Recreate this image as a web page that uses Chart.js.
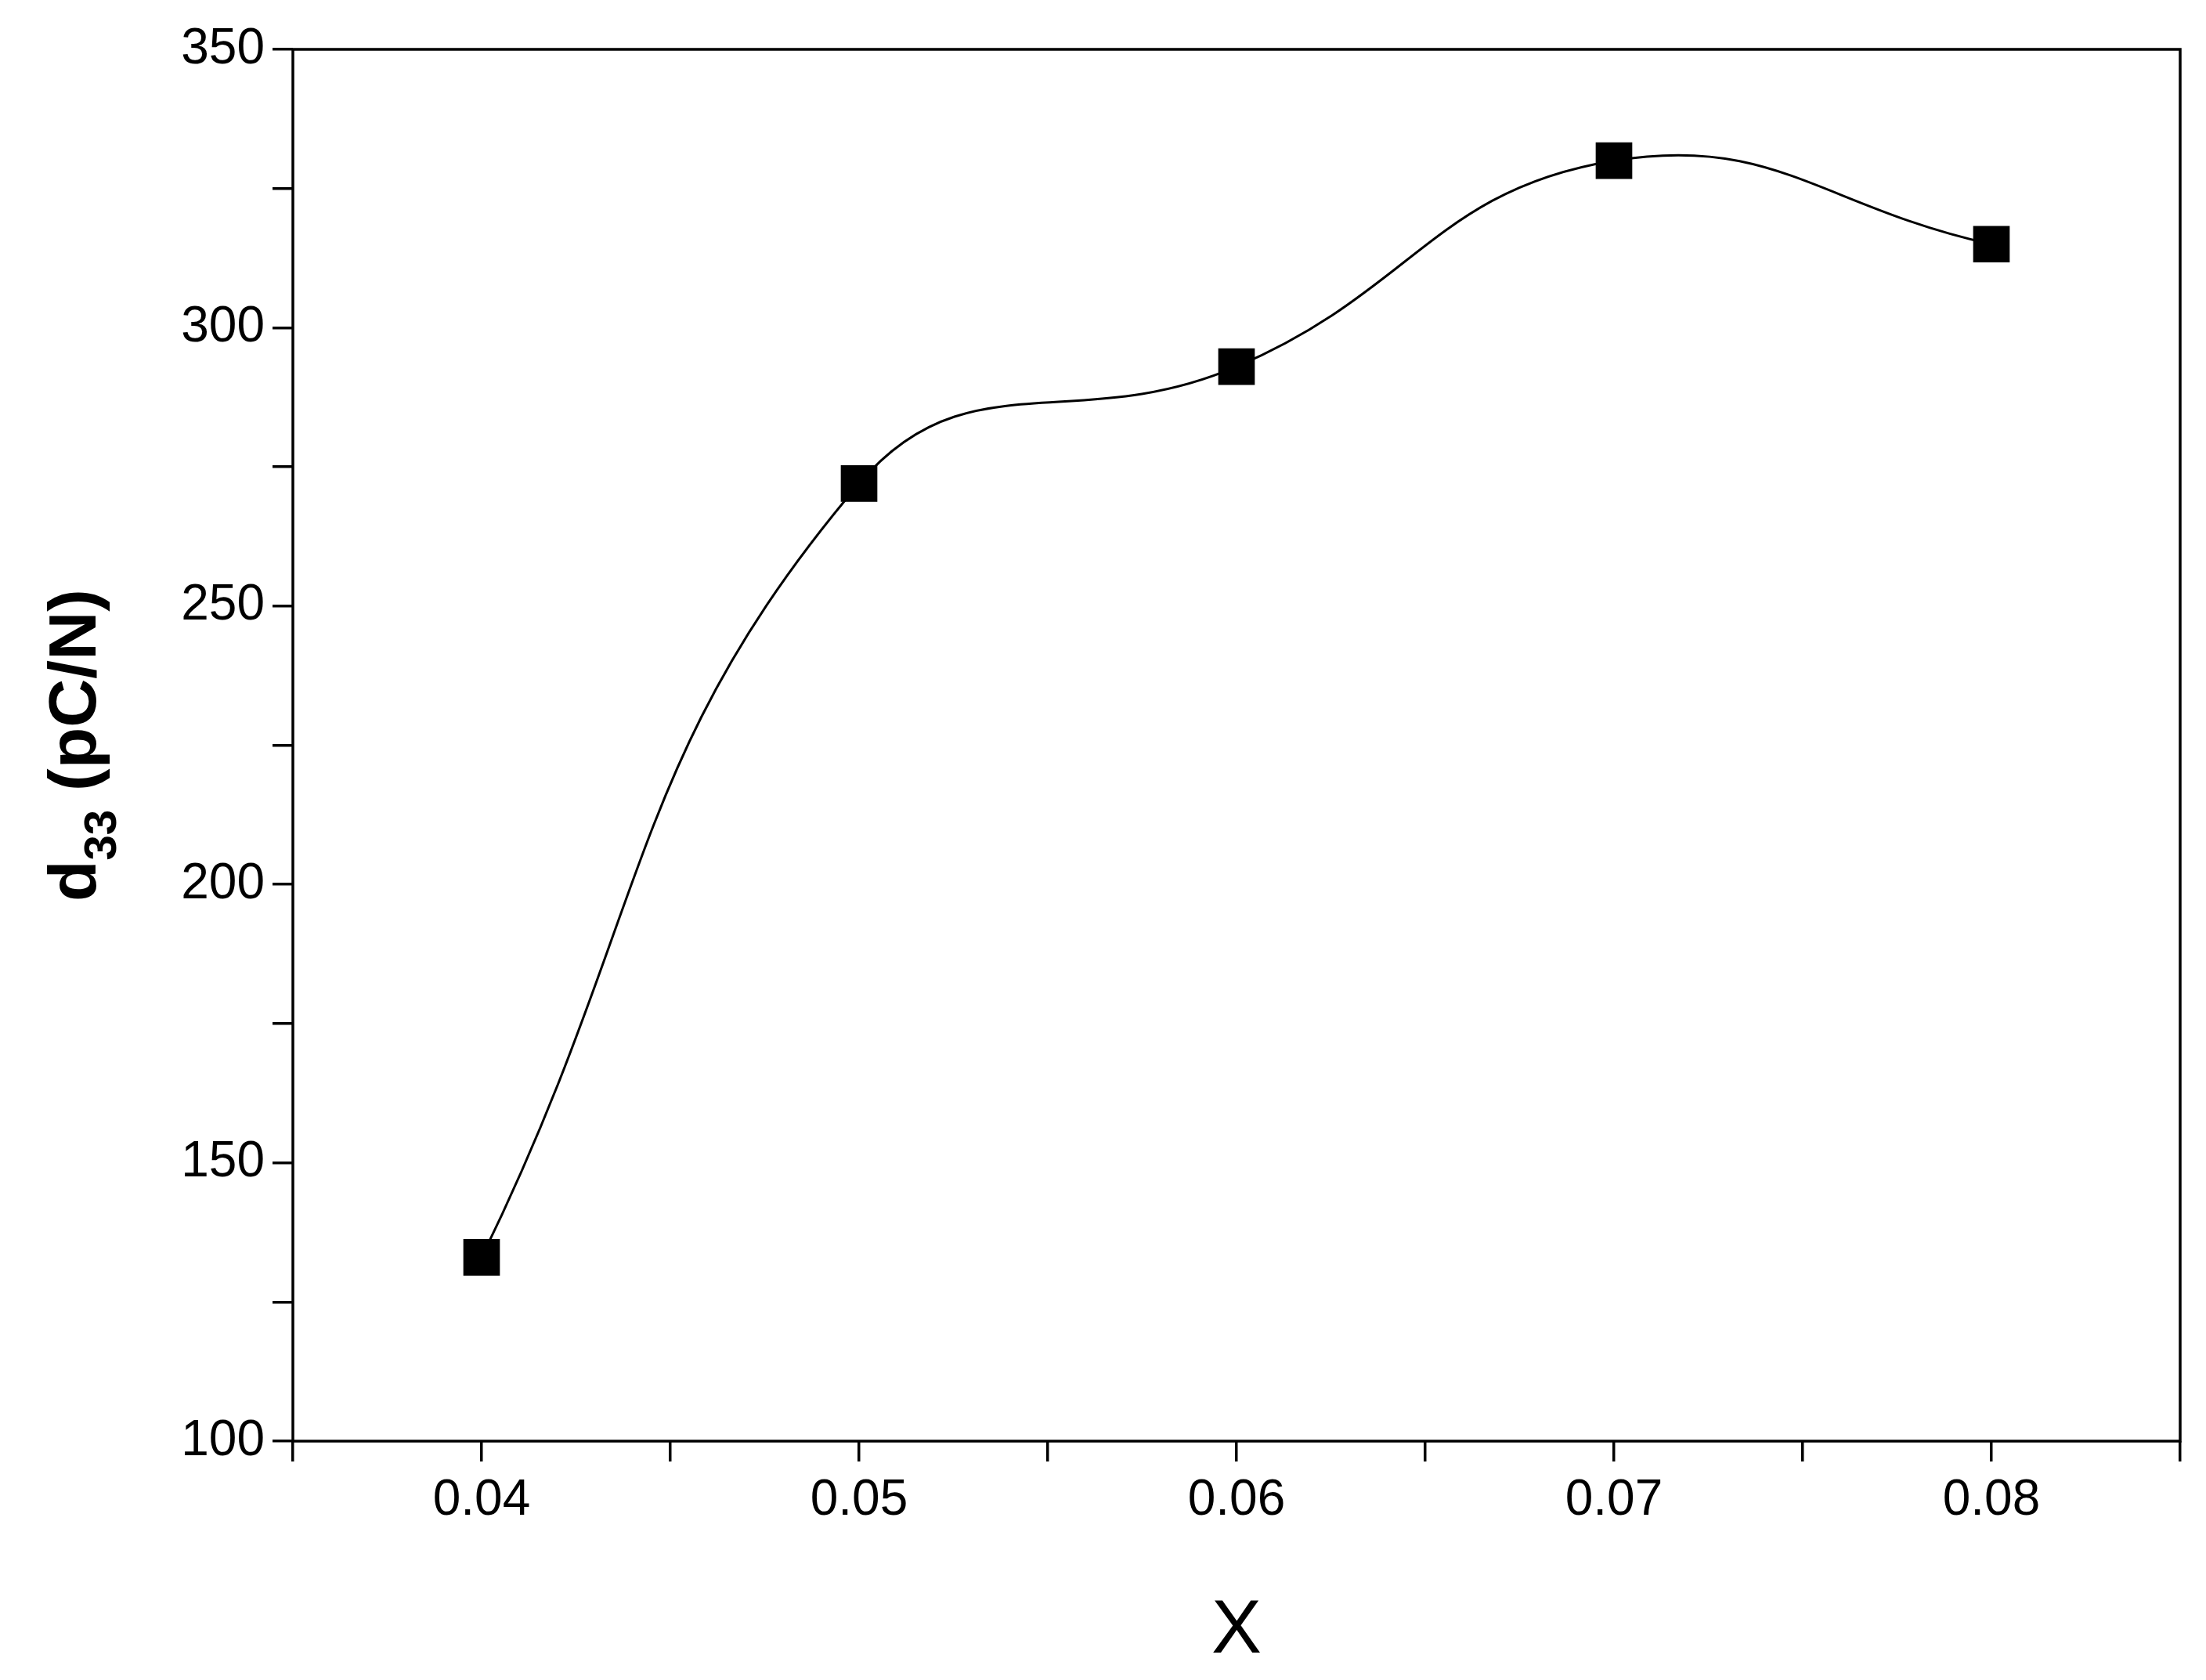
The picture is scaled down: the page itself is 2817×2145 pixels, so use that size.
<!DOCTYPE html>
<html><head><meta charset="utf-8">
<script src="https://cdn.jsdelivr.net/npm/chart.js@4/dist/chart.umd.min.js"></script>
<style>html,body{margin:0;padding:0;background:#fff}#w{width:2817px;height:2145px}</style>
</head><body><div id="w"><canvas id="c"></canvas></div>
<script>
const xValues = [0.04, 0.05, 0.06, 0.07, 0.08];
const d33Values = [133, 272, 293, 330, 315];
const xTicks = [0.035,0.04,0.045,0.05,0.055,0.06,0.065,0.07,0.075,0.08,0.085];
const xTickLabels = ['', '0.04', '', '0.05', '', '0.06', '', '0.07', '', '0.08', ''];
const yTicks = [100,125,150,175,200,225,250,275,300,325,350];
const yTickLabels = ['100','','150','','200','','250','','300','','350'];

const frame = {
  id:'frame',
  afterDraw(ch){
    const {ctx, chartArea:a} = ch;
    ctx.save();
    ctx.strokeStyle='#000'; ctx.lineWidth=3.5;
    ctx.strokeRect(a.left,a.top,a.right-a.left,a.bottom-a.top);
    ctx.translate(92,(a.top+a.bottom)/2);
    ctx.rotate(-Math.PI/2);
    ctx.fillStyle='#000';
    ctx.textBaseline='alphabetic';
    const f1='bold 86px "Liberation Sans", Arial, sans-serif';
    const f2='bold 58px "Liberation Sans", Arial, sans-serif';
    ctx.font=f1; const w1=ctx.measureText('d').width, w3=ctx.measureText(' (pC/N)').width;
    ctx.font=f2; const w2=ctx.measureText('33').width;
    let x=-(w1+w2+w3)/2;
    ctx.font=f1; ctx.fillText('d',x,30); x+=w1;
    ctx.font=f2; ctx.fillText('33',x,56); x+=w2;
    ctx.font=f1; ctx.fillText(' (pC/N)',x,30);
    ctx.restore();
  }
};

new Chart(document.getElementById('c'),{
  type:'line',
  data:{datasets:[{
    data:xValues.map((x,i)=>({x, y:d33Values[i]})),
    borderColor:'#000', borderWidth:3, tension:0.45,
    pointStyle:'rect', pointRadius:33, pointHoverRadius:33,
    pointBackgroundColor:'#000', pointBorderColor:'#000', pointBorderWidth:0
  }]},
  options:{
    responsive:true, maintainAspectRatio:false, animation:false,
    devicePixelRatio:1,
    layout:{padding:{top:63,right:32,left:0,bottom:0}},
    plugins:{legend:{display:false},tooltip:{enabled:false}},
    scales:{
      x:{type:'linear',min:0.035,max:0.085,
        afterBuildTicks(s){s.ticks=xTicks.map(v=>({value:v}));},
        afterFit(s){s.height=305;},
        border:{display:false},
        grid:{drawOnChartArea:false,color:'#000',lineWidth:3.5,tickLength:26},
        ticks:{autoSkip:false,maxRotation:0,color:'#000',padding:12,
          font:{family:'"Liberation Sans", Arial',size:64},
          callback:(v,i)=>xTickLabels[i]},
        title:{display:true,text:'X',color:'#000',padding:{top:0},
          font:{family:'"Liberation Sans", Arial',size:96}}
      },
      y:{type:'linear',min:100,max:350,
        afterBuildTicks(s){s.ticks=yTicks.map(v=>({value:v}));},
        afterFit(s){s.width=374;},
        border:{display:false},
        grid:{drawOnChartArea:false,color:'#000',lineWidth:3.5,tickLength:26},
        ticks:{autoSkip:false,color:'#000',padding:10,
          font:{family:'"Liberation Sans", Arial',size:64},
          callback:(v,i)=>yTickLabels[i]}
      }
    }
  },
  plugins:[frame]
});
</script></body></html>
